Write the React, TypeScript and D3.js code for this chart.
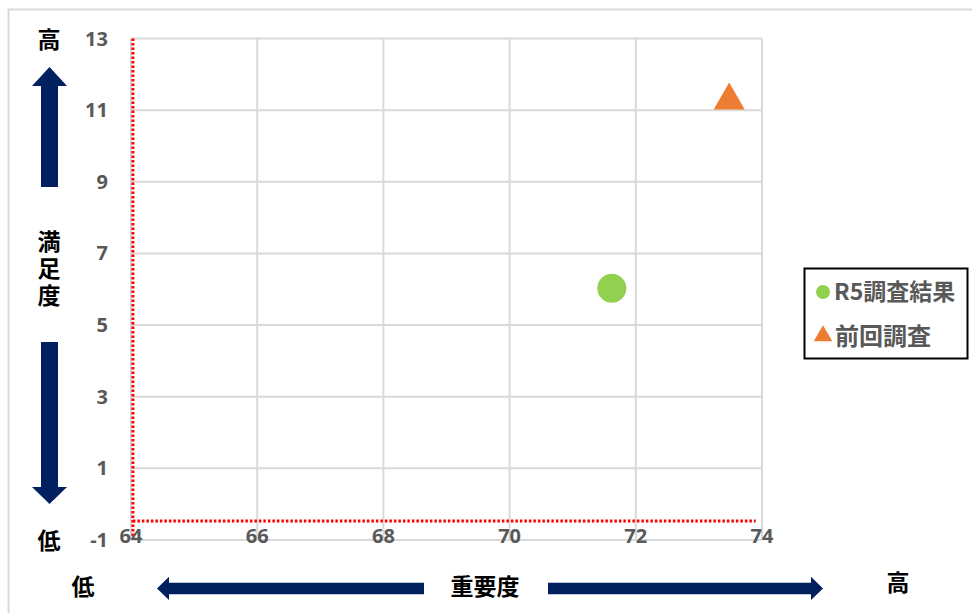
import React from "react";
import * as d3 from "d3";

const xTicks = [64, 66, 68, 70, 72, 74];
const yTicks = [-1, 1, 3, 5, 7, 9, 11, 13];
const seriesCurrent = [{ x: 71.62, y: 6.03 }];
const seriesPrevious = [{ x: 73.48, y: 11.27 }];
const refVertical = { x: 64.03, y0: -1, y1: 13 };
const refHorizontal = { y: -0.47, x0: 64.03, x1: 73.9 };
const legendLabels = ["R5調査結果", "前回調査"];

const NAVY = "#002060";
const GRID = "#d9d9d9";
const TICK = "#595959";
const CJK = "'Noto Sans CJK JP', 'Noto Sans', sans-serif";
const NUM = "'Noto Sans', 'Open Sans', sans-serif";

export default function App() {
  const x = d3.scaleLinear().domain([64, 74]).range([131, 762]);
  const y = d3.scaleLinear().domain([-1, 13]).range([540, 38.5]);
  const tri = d3.symbol().type(d3.symbolTriangle).size(420)();
  const triSmall = d3.symbol().type(d3.symbolTriangle).size(150)();

  const upArrow = `M49.5,67 L67,86 L58,86 L58,187 L41,187 L41,86 L32,86 Z`;
  const downArrow = `M41,342 L58,342 L58,487 L67,487 L49.5,504 L32,487 L41,487 Z`;
  const leftArrow = `M157,588.5 L169,576.7 L169,582.7 L424,582.7 L424,594.3 L169,594.3 L169,600 Z`;
  const rightArrow = `M548,582.7 L811,582.7 L811,576.7 L823,588.5 L811,600 L811,594.3 L548,594.3 Z`;

  return (
    <div style={{ position: "fixed", left: 0, top: 0 }}>
      <svg width={972} height={613} style={{ display: "block", background: "#fff" }}>
        <rect x={8.5} y={9.5} width={990} height={640} fill="#fff" stroke={GRID} strokeWidth={2} />
        {/* grid */}
        {yTicks.map((t) => (
          <line key={"gy" + t} x1={x(64)} x2={x(74)} y1={y(t)} y2={y(t)} stroke={GRID} strokeWidth={2} />
        ))}
        {xTicks.map((t) => (
          <line key={"gx" + t} x1={x(t)} x2={x(t)} y1={y(-1)} y2={y(13)} stroke={GRID} strokeWidth={2} />
        ))}
        {/* reference dotted lines */}
        <line x1={x(refVertical.x)} x2={x(refVertical.x)} y1={y(refVertical.y1)} y2={y(refVertical.y0)}
          stroke="#ff0000" strokeWidth={3} strokeDasharray="2.5,2" />
        <line x1={x(refHorizontal.x0)} x2={x(refHorizontal.x1)} y1={y(refHorizontal.y)} y2={y(refHorizontal.y)}
          stroke="#ff0000" strokeWidth={3} strokeDasharray="2.5,2" />
        {/* y tick labels */}
        {yTicks.map((t) => (
          <text key={"ty" + t} x={108} y={y(t)} dy="0.35em" textAnchor="end" fontFamily={NUM}
            fontWeight="bold" fontSize={20} fill={TICK}>{t}</text>
        ))}
        {xTicks.map((t) => (
          <text key={"tx" + t} x={x(t)} y={536} dy="0.35em" textAnchor="middle" fontFamily={NUM}
            fontWeight="bold" fontSize={20} fill={TICK}>{t}</text>
        ))}
        {/* points */}
        {seriesCurrent.map((d, i) => (
          <circle key={"c" + i} cx={x(d.x)} cy={y(d.y)} r={14.5} fill="#92d050" />
        ))}
        {seriesPrevious.map((d, i) => (
          <path key={"p" + i} d={tri!} transform={`translate(${x(d.x)},${y(d.y)})`} fill="#ed7d31" />
        ))}
        {/* legend */}
        <rect x={804.5} y={268.5} width={163} height={90} fill="#fff" stroke="#000" strokeWidth={2} />
        <circle cx={823} cy={292} r={7} fill="#92d050" />
        <text x={834} y={292} dy="0.36em" fontFamily={CJK} fontWeight="bold" fontSize={23} fill={TICK}>{legendLabels[0]}</text>
        <path d={triSmall!} transform="translate(823,336)" fill="#ed7d31" />
        <text x={835} y={336} dy="0.36em" fontFamily={CJK} fontWeight="bold" fontSize={24} fill={TICK}>{legendLabels[1]}</text>
        {/* arrows */}
        <path d={upArrow} fill={NAVY} />
        <path d={downArrow} fill={NAVY} />
        <path d={leftArrow} fill={NAVY} />
        <path d={rightArrow} fill={NAVY} />
        {/* axis words */}
        <g fontFamily={CJK} fontWeight="bold" fontSize={23} fill="#000" textAnchor="middle">
          <text x={49} y={40} dy="0.36em">高</text>
          <text x={49} y={230} style={{ writingMode: "vertical-rl" }} textAnchor="start" letterSpacing={4}>満足度</text>
          <text x={49} y={541} dy="0.36em">低</text>
          <text x={83} y={587} dy="0.36em">低</text>
          <text x={485} y={587} dy="0.36em">重要度</text>
          <text x={898} y={583} dy="0.36em">高</text>
        </g>
      </svg>
    </div>
  );
}
